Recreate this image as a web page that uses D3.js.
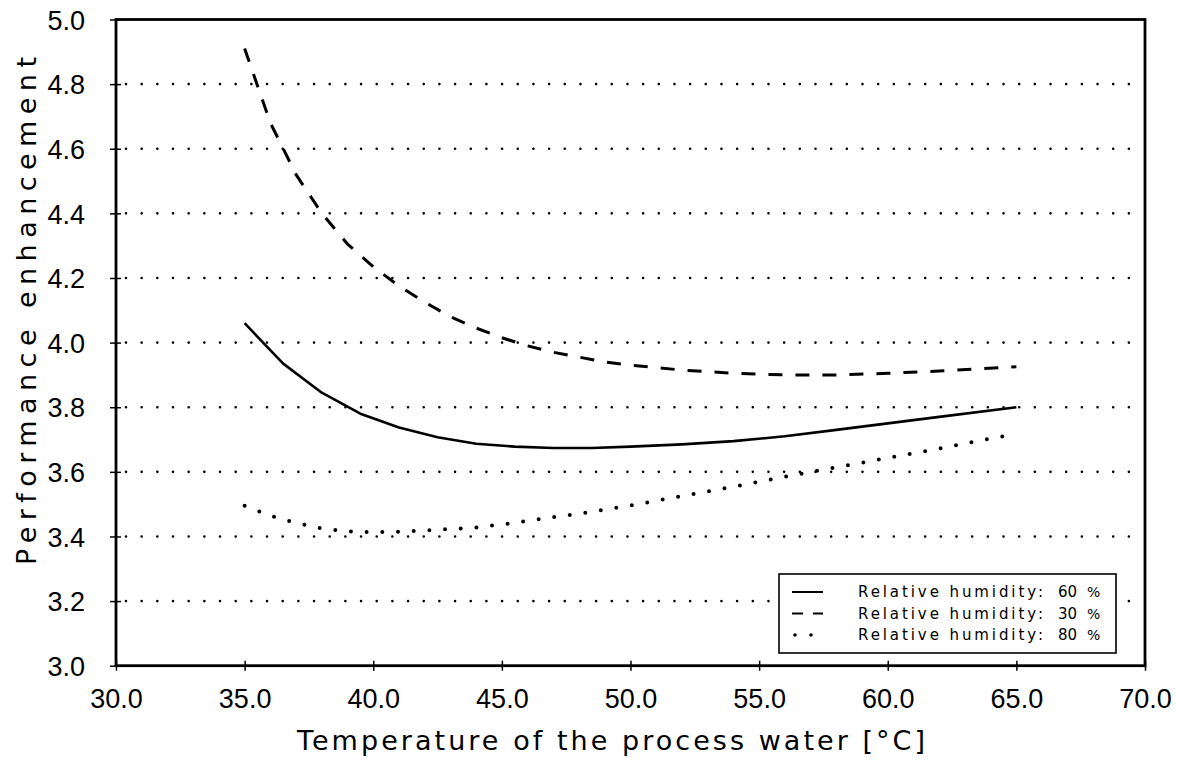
<!DOCTYPE html>
<html>
<head>
<meta charset="utf-8">
<script src="https://cdn.jsdelivr.net/npm/d3@7"></script>
<style>
  html, body { margin: 0; padding: 0; background: #fff; }
  svg { display: block; }
  text { font-family: "DejaVu Sans", "Liberation Sans", sans-serif; fill: #000; }
  .tick text { font-family: "Liberation Sans", "DejaVu Sans", sans-serif; }
</style>
</head>
<body>
<svg id="chart" width="1177" height="762"></svg>
<script>
// Process water temperature (°C) and performance enhancement per relative humidity
const temps60 = [35, 36.5, 38, 39.5, 41, 42.5, 44, 45.5, 47, 48.5, 50, 52, 54, 56, 58, 60, 62, 65];
const perf60  = [4.06, 3.935, 3.845, 3.78, 3.737, 3.707, 3.687, 3.678, 3.674, 3.674, 3.678, 3.685, 3.695, 3.71, 3.73, 3.75, 3.77, 3.80];

const temps30 = [35, 36, 37, 38, 39, 40, 41, 42, 43, 44, 45, 46, 47, 48, 49, 50, 52, 54, 56, 58, 60, 62, 65];
const perf30  = [4.91, 4.68, 4.52, 4.40, 4.305, 4.235, 4.175, 4.125, 4.08, 4.045, 4.015, 3.99, 3.97, 3.955, 3.94, 3.93, 3.915, 3.905, 3.90, 3.90, 3.905, 3.912, 3.925];

const temps80 = [35, 36, 37, 38, 39, 40, 41, 42, 43, 44, 45, 46, 47, 48, 49, 50, 52, 54, 56, 58, 60, 62, 64, 65];
const perf80  = [3.495, 3.464, 3.442, 3.425, 3.416, 3.413, 3.415, 3.418, 3.423, 3.428, 3.437, 3.448, 3.46, 3.47, 3.483, 3.496, 3.525, 3.554, 3.585, 3.614, 3.643, 3.672, 3.703, 3.718];

const xTicks = [30, 35, 40, 45, 50, 55, 60, 65, 70];
const yTicks = [3.0, 3.2, 3.4, 3.6, 3.8, 4.0, 4.2, 4.4, 4.6, 4.8, 5.0];
const gridTicks = [3.2, 3.4, 3.6, 3.8, 4.0, 4.2, 4.4, 4.6, 4.8];

const legendLabels = ["Relative humidity:", "Relative humidity:", "Relative humidity:"];
const legendValues = ["60", "30", "80"];

const svg = d3.select("#chart");

const plotLeft = 116, plotRight = 1145, plotTop = 19.5, plotBottom = 665.7;
const x = d3.scaleLinear().domain([30, 70]).range([plotLeft, plotRight]);
const y = d3.scaleLinear().domain([3, 5]).range([plotBottom, plotTop]);

// Dotted horizontal grid
svg.append("g").selectAll("line").data(gridTicks).join("line")
  .attr("x1", plotLeft + 10).attr("x2", plotRight - 4)
  .attr("y1", d => y(d)).attr("y2", d => y(d))
  .attr("stroke", "#000").attr("stroke-width", 2.6)
  .attr("stroke-linecap", "round")
  .attr("stroke-dasharray", "0 15.67");

// Series
const styles = [
  { t: temps60, v: perf60, dash: null, width: 2.6, cap: "butt" },
  { t: temps30, v: perf30, dash: "14 13", width: 3, cap: "butt" },
  { t: temps80, v: perf80, dash: "0 15.7", width: 4, cap: "round" }
];
const line = d3.line().x(d => x(d[0])).y(d => y(d[1]));
styles.forEach(s => {
  svg.append("path")
    .datum(s.t.map((t, i) => [t, s.v[i]]))
    .attr("d", line)
    .attr("fill", "none")
    .attr("stroke", "#000")
    .attr("stroke-width", s.width)
    .attr("stroke-linecap", s.cap)
    .attr("stroke-linejoin", "round")
    .attr("stroke-dasharray", s.dash);
});

// Axes
const xAxis = svg.append("g").attr("transform", `translate(0,${plotBottom})`)
  .call(d3.axisBottom(x).tickValues(xTicks).tickFormat(d3.format(".1f")).tickSize(5).tickPadding(20));
xAxis.select(".domain").remove();
xAxis.selectAll(".tick line").attr("y1", -5).attr("y2", 5).attr("stroke-width", 1.5);
xAxis.selectAll(".tick text").attr("font-size", 27).attr("dy", 0).attr("y", 42);

const yAxis = svg.append("g").attr("transform", `translate(${plotLeft},0)`)
  .call(d3.axisLeft(y).tickValues(yTicks).tickFormat(d3.format(".1f")).tickSize(5).tickPadding(26));
yAxis.select(".domain").remove();
yAxis.selectAll(".tick line").attr("x1", -6).attr("x2", 5).attr("stroke-width", 1.5);
yAxis.selectAll(".tick text").attr("font-size", 27).attr("dy", "0.36em");

// Frame
svg.append("rect")
  .attr("x", plotLeft).attr("y", plotTop)
  .attr("width", plotRight - plotLeft).attr("height", plotBottom - plotTop)
  .attr("fill", "none").attr("stroke", "#000").attr("stroke-width", 2.8);

// Axis titles
svg.append("text")
  .attr("x", 611).attr("y", 750)
  .attr("text-anchor", "middle")
  .attr("font-size", 27)
  .attr("textLength", 628).attr("lengthAdjust", "spacing")
  .text("Temperature of the process water [°C]");

svg.append("text")
  .attr("transform", "translate(36,311) rotate(-90)")
  .attr("text-anchor", "middle")
  .attr("font-size", 27)
  .attr("textLength", 508).attr("lengthAdjust", "spacing")
  .text("Performance enhancement");

// Legend
const lg = svg.append("g");
lg.append("rect")
  .attr("x", 779).attr("y", 574).attr("width", 337).attr("height", 79)
  .attr("fill", "#fff").attr("stroke", "#000").attr("stroke-width", 1.6);

const rowsY = [592, 613.5, 635];
styles.forEach((s, i) => {
  lg.append("line")
    .attr("x1", 792).attr("x2", 823)
    .attr("y1", rowsY[i]).attr("y2", rowsY[i])
    .attr("stroke", "#000")
    .attr("stroke-width", i === 2 ? 3.6 : 2)
    .attr("stroke-linecap", s.cap)
    .attr("stroke-dasharray", i === 1 ? "11 10" : (i === 2 ? "0 16" : null))
    .attr("transform", i === 2 ? "translate(3,0)" : null);
  lg.append("text")
    .attr("x", 858).attr("y", rowsY[i]).attr("dy", "0.36em")
    .attr("font-size", 15)
    .attr("textLength", 185).attr("lengthAdjust", "spacing")
    .text(legendLabels[i]);
  lg.append("text")
    .attr("x", 1058).attr("y", rowsY[i]).attr("dy", "0.36em")
    .attr("font-size", 15)
    .text(legendValues[i]);
  lg.append("text")
    .attr("x", 1087).attr("y", rowsY[i]).attr("dy", "0.36em")
    .attr("font-size", 14)
    .text("%");
});
</script>
</body>
</html>
